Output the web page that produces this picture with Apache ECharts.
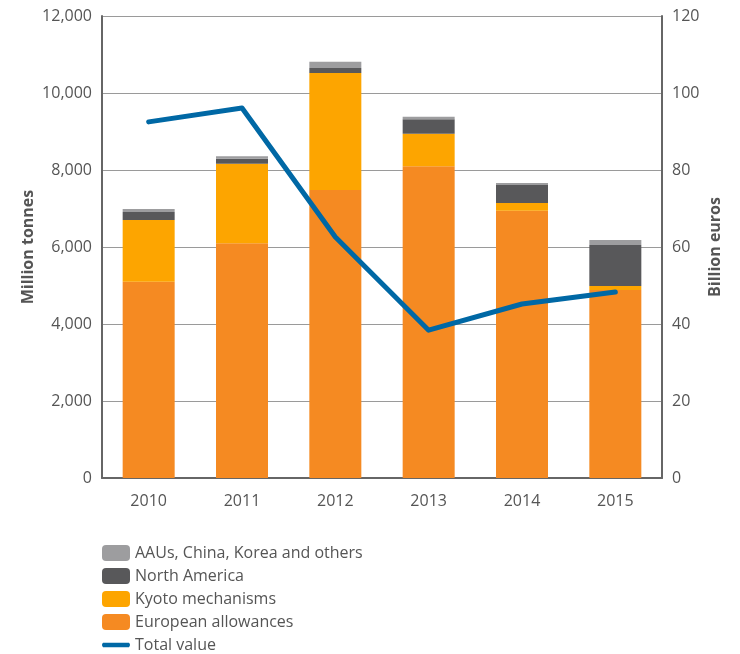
<!DOCTYPE html>
<html>
<head>
<meta charset="utf-8">
<script src="https://cdn.jsdelivr.net/npm/echarts@6/dist/echarts.min.js"></script>
<style>
  html, body { margin: 0; padding: 0; background: #fff; }
  #chart { width: 740px; height: 654px; }
</style>
</head>
<body>
<div id="chart"></div>
<script>
// years
var years = ['2010', '2011', '2012', '2013', '2014', '2015'];
// million tonnes, stacked
var euAllowances = [5100, 6100, 7480, 8100, 6940, 4880];
var kyoto = [1600, 2060, 3040, 840, 200, 110];
var northAmerica = [210, 130, 130, 380, 470, 1060];
var aauOthers = [80, 70, 160, 60, 50, 130];
// billion euros
var totalValue = [92.5, 96.1, 62.6, 38.4, 45.2, 48.3];

var font = 'Open Sans';
var txt = '#555555';

var myChart = echarts.init(document.getElementById('chart'));

var option = {
  animation: false,
  textStyle: { fontFamily: font },
  grid: { left: 102, right: 78, top: 16, bottom: 176 },
  legend: {
    orient: 'vertical',
    left: 102,
    top: 545,
    padding: 0,
    height: 120,
    itemWidth: 28,
    itemHeight: 16,
    itemGap: 7,
    textStyle: { color: txt, fontSize: 16, fontFamily: font },
    data: [
      { name: 'AAUs, China, Korea and others' },
      { name: 'North America' },
      { name: 'Kyoto mechanisms' },
      { name: 'European allowances' },
      { name: 'Total value', icon: 'path://M2,6 L26,6 Q28,8 26,10 L2,10 Q0,8 2,6 Z' }
    ]
  },
  xAxis: {
    type: 'category',
    data: years,
    axisLine: { lineStyle: { color: '#666666', width: 2 } },
    axisTick: { show: false },
    axisLabel: { color: txt, fontSize: 16, margin: 15 }
  },
  yAxis: [
    {
      type: 'value',
      min: 0,
      max: 12000,
      interval: 2000,
      name: 'Million tonnes',
      nameLocation: 'middle',
      nameGap: 66,
      nameMoveOverlap: false,
      nameTextStyle: { color: txt, fontSize: 16, fontWeight: 'bold' },
      axisLine: { show: true, lineStyle: { color: '#666666', width: 2 } },
      axisTick: { show: false },
      axisLabel: {
        color: txt, fontSize: 16, margin: 10,
        formatter: function (v) { return v.toLocaleString('en-US'); }
      },
      splitLine: { lineStyle: { color: '#9a9a9a', width: 1 } }
    },
    {
      type: 'value',
      min: 0,
      max: 120,
      interval: 20,
      name: 'Billion euros',
      nameLocation: 'middle',
      nameGap: 45,
      nameMoveOverlap: false,
      nameTextStyle: { color: txt, fontSize: 16, fontWeight: 'bold' },
      axisLine: { show: true, lineStyle: { color: '#666666', width: 2 } },
      axisTick: { show: false },
      axisLabel: { color: txt, fontSize: 16, margin: 10 },
      splitLine: { show: false }
    }
  ],
  series: [
    {
      name: 'European allowances', type: 'bar', stack: 'mt', barWidth: 52,
      itemStyle: { color: '#F58A22' }, data: euAllowances
    },
    {
      name: 'Kyoto mechanisms', type: 'bar', stack: 'mt', barWidth: 52,
      itemStyle: { color: '#FDA500' }, data: kyoto
    },
    {
      name: 'North America', type: 'bar', stack: 'mt', barWidth: 52,
      itemStyle: { color: '#58585A' }, data: northAmerica
    },
    {
      name: 'AAUs, China, Korea and others', type: 'bar', stack: 'mt', barWidth: 52,
      itemStyle: { color: '#9D9D9F' }, data: aauOthers
    },
    {
      name: 'Total value', type: 'line', yAxisIndex: 1,
      symbol: 'none',
      lineStyle: { color: '#0068A5', width: 5, cap: 'round', join: 'round' },
      itemStyle: { color: '#0068A5' },
      data: totalValue
    }
  ]
};

myChart.setOption(option);
</script>
</body>
</html>
